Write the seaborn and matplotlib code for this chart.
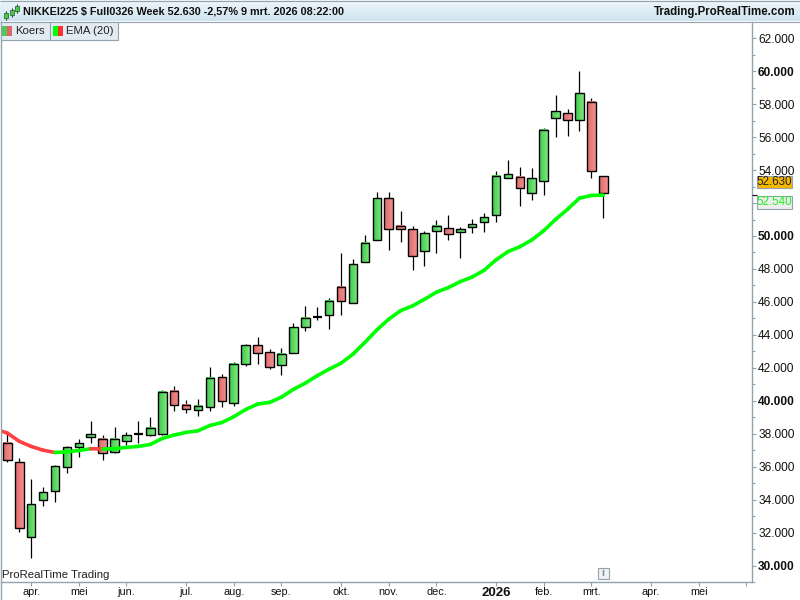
import numpy as np
import pandas as pd
import matplotlib
matplotlib.use("Agg")
import matplotlib.pyplot as plt
import seaborn as sns
from matplotlib.colors import LinearSegmentedColormap
from matplotlib.patches import Rectangle

# weekly candles (values in thousands)
opens = [37.43, 36.28, 31.74, 33.98, 34.53, 35.98, 37.19, 37.80, 37.68, 36.87,
         37.56, 37.94, 37.90, 37.96, 40.59, 39.74, 39.43, 39.60, 41.43, 39.84,
         42.22, 43.37, 42.95, 42.16, 42.89, 44.46, 45.07, 45.19, 46.89, 45.92,
         48.40, 49.74, 52.28, 50.59, 50.40, 49.07, 50.28, 50.46, 50.22, 50.53,
         50.83, 51.25, 53.54, 53.56, 52.59, 53.31, 57.19, 57.49, 57.07, 58.16,
         53.62]
closes = [36.38, 32.28, 33.74, 34.46, 36.04, 37.19, 37.43, 37.98, 36.83, 37.68,
          37.92, 37.98, 38.34, 40.53, 39.72, 39.49, 39.68, 41.37, 39.98, 42.22,
          43.37, 42.89, 42.04, 42.83, 44.46, 45.01, 45.13, 46.04, 46.04, 48.28,
          49.56, 52.28, 50.40, 50.40, 48.77, 50.16, 50.59, 50.10, 50.40, 50.71,
          51.13, 53.62, 53.74, 52.89, 53.49, 56.46, 57.56, 57.07, 58.65, 53.92,
          52.63]
highs = [38.04, 36.53, 35.25, 34.77, 36.10, 37.25, 37.70, 38.79, 37.94, 38.40,
         38.10, 38.79, 39.01, 40.65, 40.91, 40.06, 40.12, 42.06, 41.64, 42.36,
         43.45, 43.88, 43.15, 43.21, 44.71, 45.76, 45.68, 46.22, 48.95, 48.60,
         50.04, 52.65, 52.65, 51.49, 50.59, 50.28, 50.95, 51.25, 50.52, 51.01,
         51.37, 53.92, 54.61, 54.16, 54.12, 56.53, 58.55, 57.68, 60.00, 58.36,
         53.62]
lows = [36.26, 32.02, 30.44, 33.60, 33.84, 35.60, 36.57, 37.41, 36.38, 36.83,
        37.29, 37.45, 37.84, 37.90, 39.39, 39.23, 39.09, 39.39, 39.64, 39.70,
        42.12, 42.26, 41.94, 41.58, 42.89, 44.26, 44.91, 44.36, 45.23, 45.92,
        48.40, 49.74, 49.17, 49.66, 47.96, 48.20, 48.99, 49.78, 48.69, 50.20,
        50.26, 50.83, 53.49, 51.84, 52.20, 52.50, 56.02, 56.08, 56.38, 53.54,
        51.11]
# first value sits one bar before the first candle, just off the left edge
ema = [38.28, 38.04, 37.54, 37.23, 37.00, 36.86, 36.90, 36.98, 37.09, 37.07,
       37.09, 37.17, 37.23, 37.35, 37.71, 37.92, 38.08, 38.18, 38.50, 38.68,
       39.03, 39.47, 39.80, 39.90, 40.22, 40.69, 41.07, 41.52, 41.92, 42.28,
       42.83, 43.54, 44.30, 44.95, 45.47, 45.76, 46.16, 46.59, 46.87, 47.23,
       47.51, 47.92, 48.55, 49.05, 49.35, 49.76, 50.32, 51.01, 51.62, 52.30,
       52.46, 52.48]

month_pos = [2, 6, 10, 15, 19, 23, 28, 32, 36, 41, 45, 49, 54, 58, 62]
month_labels = ["apr.", "mei", "jun.", "jul.", "aug.", "sep.", "okt.", "nov.",
                "dec.", "2026", "feb.", "mrt.", "apr.", "mei", ""]
y_ticks = list(range(30, 64, 2))
# the 52.000 label is hidden behind the EMA price tag in the original
hidden_ticks = [52]

FONT = "Liberation Sans"
GREEN_CMAP = LinearSegmentedColormap.from_list("g", ["#3fc94f", "#7be87b"])
RED_CMAP = LinearSegmentedColormap.from_list("r", ["#e26a6a", "#f08f8f"])
FRAME = "#93a3ad"
STEP = 11.92
X0 = 7.3


def px_x(px):
    return (px - X0) / STEP


def draw_candles(ax, df):
    # wicks first so the bodies cover them
    ax.vlines(df["i"], df["low"], df["high"], color="black", lw=0.9, zorder=2)
    for _, row in df.iterrows():
        lo, hi = sorted([row["open"], row["close"]])
        cmap = GREEN_CMAP if row["close"] >= row["open"] else RED_CMAP
        left, right = row["i"] - 0.36, row["i"] + 0.36
        if hi - lo < 0.12:
            ax.hlines((lo + hi) / 2, left, right, color="black", lw=1.6, zorder=4)
            continue
        ax.imshow(np.linspace(0, 1, 16).reshape(1, -1), cmap=cmap, vmin=0, vmax=1,
                  extent=(left, right, lo, hi), aspect="auto", zorder=3,
                  interpolation="bilinear")
        ax.add_patch(Rectangle((left, lo), right - left, hi - lo, fill=False,
                               ec="black", lw=1.0, zorder=4))


def draw_ema(ax, idx, vals):
    # green when rising, red when falling
    d = pd.DataFrame({"i": idx, "v": vals})
    for k in range(len(d) - 1):
        seg = d.iloc[k:k + 2]
        col = "#00ff00" if seg["v"].iloc[1] >= seg["v"].iloc[0] else "#ff4040"
        sns.lineplot(data=seg, x="i", y="v", ax=ax, color=col, lw=2.6, legend=False,
                     estimator=None, zorder=5, solid_capstyle="round")


def main():
    sns.set_theme(style="white")
    plt.rcParams["font.family"] = [FONT, "DejaVu Sans"]

    df = pd.DataFrame({"i": np.arange(len(opens)), "open": opens, "close": closes,
                       "high": highs, "low": lows})

    fig = plt.figure(figsize=(8, 6), dpi=100, facecolor="white")
    ax = fig.add_axes([1 / 800, 1 - 582 / 600, 751 / 800, 560 / 600])
    ax.set_facecolor("white")
    draw_ema(ax, np.arange(-1, len(ema) - 1), ema)
    draw_candles(ax, df)

    ax.set_xlim(px_x(1), px_x(752))
    ax.set_ylim(30 + (566.3 - 582) / 16.5, 30 + (566.3 - 22) / 16.5)
    ax.set_xlabel("")
    ax.set_ylabel("")

    ax.yaxis.tick_right()
    ax.set_yticks(y_ticks)
    ax.set_yticklabels(["" if t in hidden_ticks else f"{t}.000" for t in y_ticks],
                       fontsize=8.6, color="#111111")
    for t, lab in zip(y_ticks, ax.get_yticklabels()):
        if t % 10 == 0:
            lab.set_fontweight("bold")
    ax.set_yticks(np.arange(29, 63, 2), minor=True)
    ax.tick_params(axis="y", which="major", length=3, width=0.8, color=FRAME, pad=1.4, right=True)
    ax.tick_params(axis="y", which="minor", length=1.8, width=0.8, color=FRAME, right=True)
    ax.set_xticks(month_pos)
    ax.set_xticklabels(month_labels, fontsize=7.8, color="#111111")
    ax.tick_params(axis="x", length=3, width=0.8, color=FRAME, pad=0.5, bottom=True)
    for lab in ax.get_xticklabels():
        if lab.get_text() == "2026":
            lab.set_fontweight("bold")
            lab.set_fontsize(9.5)
    for side in ["top", "left"]:
        ax.spines[side].set_visible(False)
    for side in ["right", "bottom"]:
        ax.spines[side].set_color(FRAME)
        ax.spines[side].set_linewidth(1.0)

    # chrome layer in pixel coordinates
    over = fig.add_axes([0, 0, 1, 1], facecolor="none")
    band = LinearSegmentedColormap.from_list("band", ["#eef6fa", "#cfe4ef"])
    over.imshow(np.linspace(0, 1, 32).reshape(-1, 1), cmap=band, extent=(0, 800, 21, 0),
                aspect="auto", zorder=1)
    over.set_xlim(0, 800)
    over.set_ylim(600, 0)
    over.axis("off")
    over.hlines(21.5, 0, 800, color=FRAME, lw=0.8, zorder=2)
    over.hlines(0.5, 0, 800, color=FRAME, lw=0.8, zorder=2)
    over.vlines(0.5, 21, 600, color=FRAME, lw=1.0, zorder=2)

    over.text(23, 11.5, "NIKKEI225 $ Full0326 Week 52.630 -2,57% 9 mrt. 2026 08:22:00",
              fontsize=7.8, fontweight="bold", va="center", color="#111111", zorder=3)
    over.text(796, 11.5, "Trading.ProRealTime.com", fontsize=8.3, fontweight="bold",
              ha="right", va="center", color="#111111", zorder=3)

    # small candle icon in the title bar
    for xc, y0, y1, top, bot in [(6, 13, 18, 11, 20), (12, 10, 15, 8, 17), (17, 6, 11, 4, 13)]:
        over.vlines(xc, top, bot, color="#333333", lw=0.8, zorder=3)
        over.add_patch(Rectangle((xc - 2, y0), 4, y1 - y0, fc="#4dc94d", ec="#2f6f3a",
                                 lw=0.6, zorder=4))

    # legend tabs
    over.add_patch(Rectangle((0.5, 21.5), 49, 18, fc="#e2ebf2", ec=FRAME, lw=0.8, zorder=3))
    over.add_patch(Rectangle((49.5, 21.5), 68, 18, fc="#e2ebf2", ec=FRAME, lw=0.8, zorder=3))
    over.add_patch(Rectangle((2, 26), 5, 10, fc="#53c653", ec="none", zorder=4))
    over.add_patch(Rectangle((7, 26), 5, 10, fc="#e06666", ec="none", zorder=4))
    over.add_patch(Rectangle((53, 26), 5, 10, fc="#00ff00", ec="none", zorder=4))
    over.add_patch(Rectangle((58, 26), 5, 10, fc="#ff3030", ec="none", zorder=4))
    over.text(15.5, 30.5, "Koers", fontsize=8.2, va="center", color="#222222", zorder=4)
    over.text(66, 30.5, "EMA (20)", fontsize=8.2, va="center", color="#222222", zorder=4)

    over.text(2, 575.5, "ProRealTime Trading", fontsize=8.2, va="center", color="#222222", zorder=4)

    # info button
    over.add_patch(Rectangle((597.5, 567.5), 11, 11, fc="#eef2f4", ec=FRAME, lw=0.8, zorder=4))
    over.text(603, 573, "i", fontsize=7.5, fontweight="bold", ha="center", va="center",
              color="#7f8c94", zorder=5)

    # last price tags
    over.add_patch(Rectangle((757, 175.5), 35, 12, fc="#f5b800", ec=FRAME, lw=0.8, zorder=4))
    over.text(774.5, 181.8, "52.630", fontsize=8.4, ha="center", va="center", color="#222222", zorder=5)
    over.add_patch(Rectangle((757, 195.5), 35, 13.5, fc="#eeeeee", ec=FRAME, lw=0.8, zorder=4))
    over.text(774.5, 202, "52.540", fontsize=8.4, ha="center", va="center", color="#22ee22", zorder=5)
    over.hlines(194.5, 752, 757, color="#111111", lw=0.8, zorder=4)

    fig.savefig("out.png", dpi=100, facecolor=fig.get_facecolor())
    plt.close(fig)


if __name__ == "__main__":
    main()
